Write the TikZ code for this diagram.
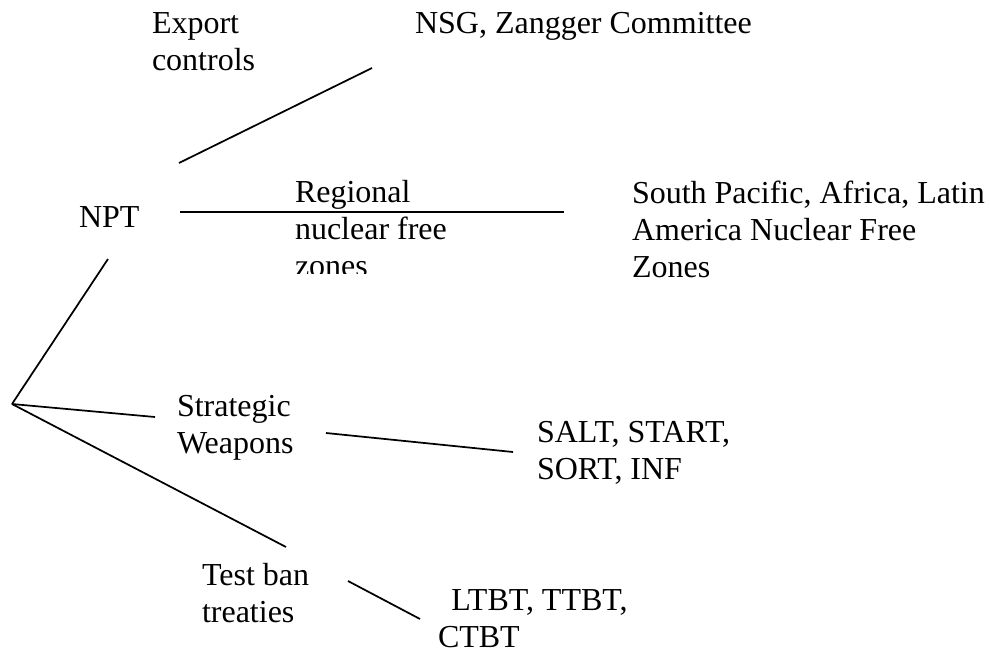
\documentclass[tikz,border=0pt]{standalone}
\usepackage{fontspec}
\setmainfont{Liberation Serif}
\begin{document}
\begin{tikzpicture}[x=0.75pt,y=-0.75pt,
  lbl/.style={anchor=base west,inner sep=0pt,outer sep=0pt,align=left,
    font=\fontsize{24}{27.75}\selectfont},
  link/.style={line width=1.3pt,line cap=butt}]
\useasboundingbox (0,0) rectangle (990,654);
% labels (multi-line: anchor is the baseline of the last line)
\node[lbl] (exp) at (152,70) {Export\\controls};
\node[lbl] (nsg) at (415,33) {NSG, Zangger Committee};
\node[lbl] (npt) at (79,227) {NPT};
\begin{scope}
\clip (280,170) rectangle (500,273);
\node[lbl] (reg) at (295,276) {Regional\\nuclear free\\zones};
\end{scope}
\node[lbl] (spa) at (632,277) {South Pacific, Africa, Latin\\America Nuclear Free\\Zones};
\node[lbl] (str) at (177,453) {Strategic\\Weapons};
\node[lbl] (sal) at (537,479) {SALT, START,\\SORT, INF};
\node[lbl] (tst) at (202,622) {Test ban\\treaties};
\node[lbl] (ltb) at (438,647) {\ \,LTBT, TTBT,\\CTBT};
% connector end points
\coordinate (e1) at (179,163);
\coordinate (e2) at (372,68);
\coordinate (r1) at (180,212);
\coordinate (r2) at (564,212);
\coordinate (n1) at (108,259);
\coordinate (root) at (12,404);
\coordinate (s1) at (155,417);
\coordinate (t1) at (286,547);
\coordinate (w1) at (326,433);
\coordinate (w2) at (513,452);
\coordinate (b1) at (348,581);
\coordinate (b2) at (420,619);
% connectors
\draw[link] (e1) -- (e2);
\draw[link] (r1) -- (r2);
\draw[link] (n1) -- (root);
\draw[link] (root) -- (s1);
\draw[link] (root) -- (t1);
\draw[link] (w1) -- (w2);
\draw[link] (b1) -- (b2);
\end{tikzpicture}
\end{document}
